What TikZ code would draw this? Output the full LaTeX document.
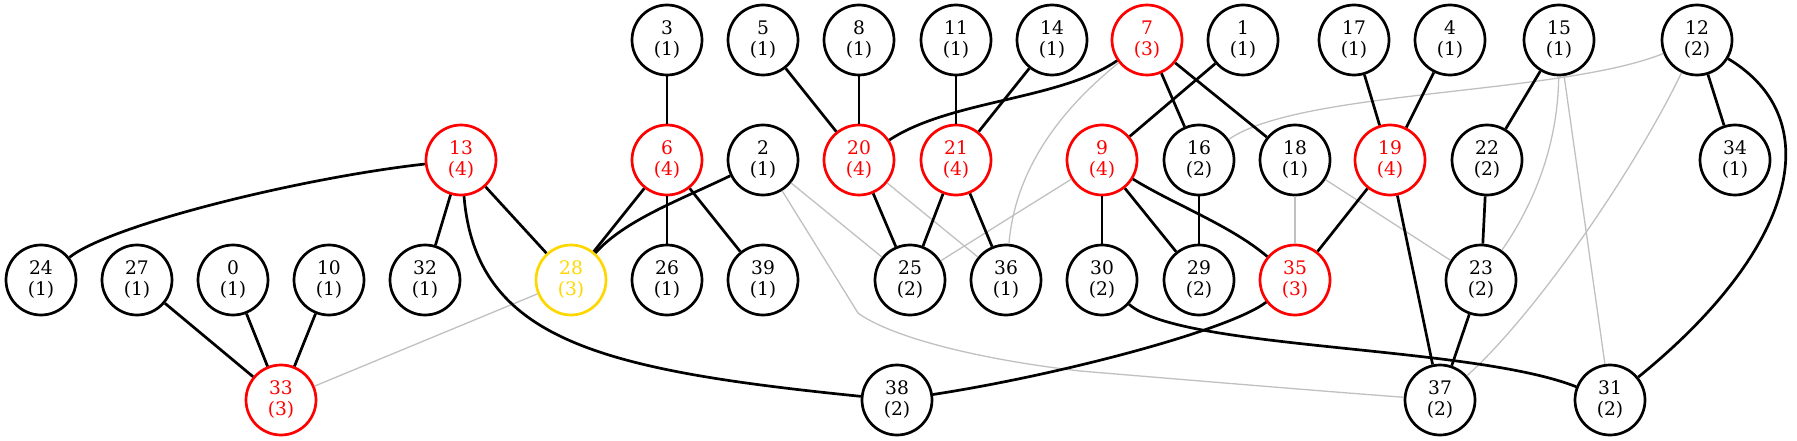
\documentclass[tikz,border=0pt]{standalone}
\usepackage{fontspec}
\setmainfont{DejaVu Serif}
\usepackage{tikz}
\definecolor{edgegray}{RGB}{192,192,192}
\definecolor{goldnode}{RGB}{255,215,0}

\begin{document}
\begin{tikzpicture}[x=1pt,y=-1pt,
  vertex/.style={circle,draw,line width=2.7pt,minimum size=70pt,inner sep=0pt,align=center,font=\fontsize{18.67}{21}\selectfont},
  hot/.style={vertex,draw=red,text=red},
  mid/.style={vertex,draw=goldnode,text=goldnode},
  strong/.style={line width=2.7pt},
  weak/.style={line width=1.3pt,edgegray}]
\useasboundingbox (0,0) rectangle (1797,441);
% 第一层 y = 40
\node[vertex] (v3) at (667,40) {3\\(1)};
\node[vertex] (v5) at (763,40) {5\\(1)};
\node[vertex] (v8) at (859,40) {8\\(1)};
\node[vertex] (v11) at (956,40) {11\\(1)};
\node[vertex] (v14) at (1052,40) {14\\(1)};
\node[hot] (v7) at (1147,40) {7\\(3)};
\node[vertex] (v1) at (1243,40) {1\\(1)};
\node[vertex] (v17) at (1354,40) {17\\(1)};
\node[vertex] (v4) at (1450,40) {4\\(1)};
\node[vertex] (v15) at (1559,40) {15\\(1)};
\node[vertex] (v12) at (1697,40) {12\\(2)};
% 第二层 y = 160
\node[hot] (v13) at (461,160) {13\\(4)};
\node[hot] (v6) at (667,160) {6\\(4)};
\node[vertex] (v2) at (763,160) {2\\(1)};
\node[hot] (v20) at (859,160) {20\\(4)};
\node[hot] (v21) at (956,160) {21\\(4)};
\node[hot] (v9) at (1102,160) {9\\(4)};
\node[vertex] (v16) at (1199,160) {16\\(2)};
\node[vertex] (v18) at (1295,160) {18\\(1)};
\node[hot] (v19) at (1390,160) {19\\(4)};
\node[vertex] (v22) at (1487,160) {22\\(2)};
\node[vertex] (v34) at (1735,160) {34\\(1)};
% 第三层 y = 280
\node[vertex] (v24) at (41,280) {24\\(1)};
\node[vertex] (v27) at (137,280) {27\\(1)};
\node[vertex] (v0) at (233,280) {0\\(1)};
\node[vertex] (v10) at (329,280) {10\\(1)};
\node[vertex] (v32) at (425,280) {32\\(1)};
\node[mid] (v28) at (571,280) {28\\(3)};
\node[vertex] (v26) at (667,280) {26\\(1)};
\node[vertex] (v39) at (763,280) {39\\(1)};
\node[vertex] (v25) at (910,280) {25\\(2)};
\node[vertex] (v36) at (1006,280) {36\\(1)};
\node[vertex] (v30) at (1102,280) {30\\(2)};
\node[vertex] (v29) at (1199,280) {29\\(2)};
\node[hot] (v35) at (1295,280) {35\\(3)};
\node[vertex] (v23) at (1481,280) {23\\(2)};
% 第四层 y = 400
\node[hot] (v33) at (281,400) {33\\(3)};
\node[vertex] (v38) at (897,400) {38\\(2)};
\node[vertex] (v37) at (1440,400) {37\\(2)};
\node[vertex] (v31) at (1610,400) {31\\(2)};
% 浅灰色的边
\draw[weak] (v28) -- (v33);
\draw[weak] (v2) -- (v25);
\draw[weak] (v20) -- (v36);
\draw[weak] (v9) -- (v25);
\draw[weak] (v18) -- (v35);
\draw[weak] (v18) -- (v23);
\draw[weak] (v15) -- (v31);
\draw[weak] (v2) -- (858,313) .. controls (885,333) and (960,357) .. (1080,371) .. controls (1200,381) and (1320,391) .. (v37);
\draw[weak] (v7) .. controls (1060,110) and (1015,170) .. (v36);
\draw[weak] (v12) .. controls (1560,95) and (1300,90) .. (v16);
\draw[weak] (v15) .. controls (1558,150) and (1530,210) .. (v23);
\draw[weak] (v12) .. controls (1640,160) and (1540,310) .. (v37);
% 黑色粗边
\draw[strong] (v13) .. controls (300,178) and (110,225) .. (v24);
\draw[strong] (v13) -- (v32);
\draw[strong] (v13) -- (v28);
\draw[strong] (v13) .. controls (476,340) and (600,370) .. (v38);
\draw[strong] (v27) -- (v33);
\draw[strong] (v0) -- (v33);
\draw[strong] (v10) -- (v33);
\draw[strong] (v3) -- (v6);
\draw[strong] (v6) -- (v28);
\draw[strong] (v6) -- (v26);
\draw[strong] (v6) -- (v39);
\draw[strong] (v2) .. controls (680,200) and (625,220) .. (v28);
\draw[strong] (v5) -- (v20);
\draw[strong] (v8) -- (v20);
\draw[strong] (v7) .. controls (1060,100) and (950,100) .. (v20);
\draw[strong] (v11) -- (v21);
\draw[strong] (v14) -- (v21);
\draw[strong] (v20) -- (v25);
\draw[strong] (v21) -- (v25);
\draw[strong] (v21) -- (v36);
\draw[strong] (v7) -- (v16);
\draw[strong] (v7) -- (v18);
\draw[strong] (v1) -- (v9);
\draw[strong] (v9) -- (v30);
\draw[strong] (v9) -- (v29);
\draw[strong] (v9) .. controls (1175,205) and (1230,225) .. (v35);
\draw[strong] (v16) -- (v29);
\draw[strong] (v17) -- (v19);
\draw[strong] (v4) -- (v19);
\draw[strong] (v19) -- (v35);
\draw[strong] (v19) -- (v37);
\draw[strong] (v15) -- (v22);
\draw[strong] (v22) -- (v23);
\draw[strong] (v23) -- (v37);
\draw[strong] (v12) -- (v34);
\draw[strong] (v12) .. controls (1830,120) and (1795,250) .. (v31);
\draw[strong] (v30) .. controls (1180,350) and (1470,345) .. (v31);
\draw[strong] (v35) .. controls (1230,330) and (1060,375) .. (v38);
\end{tikzpicture}
\end{document}
